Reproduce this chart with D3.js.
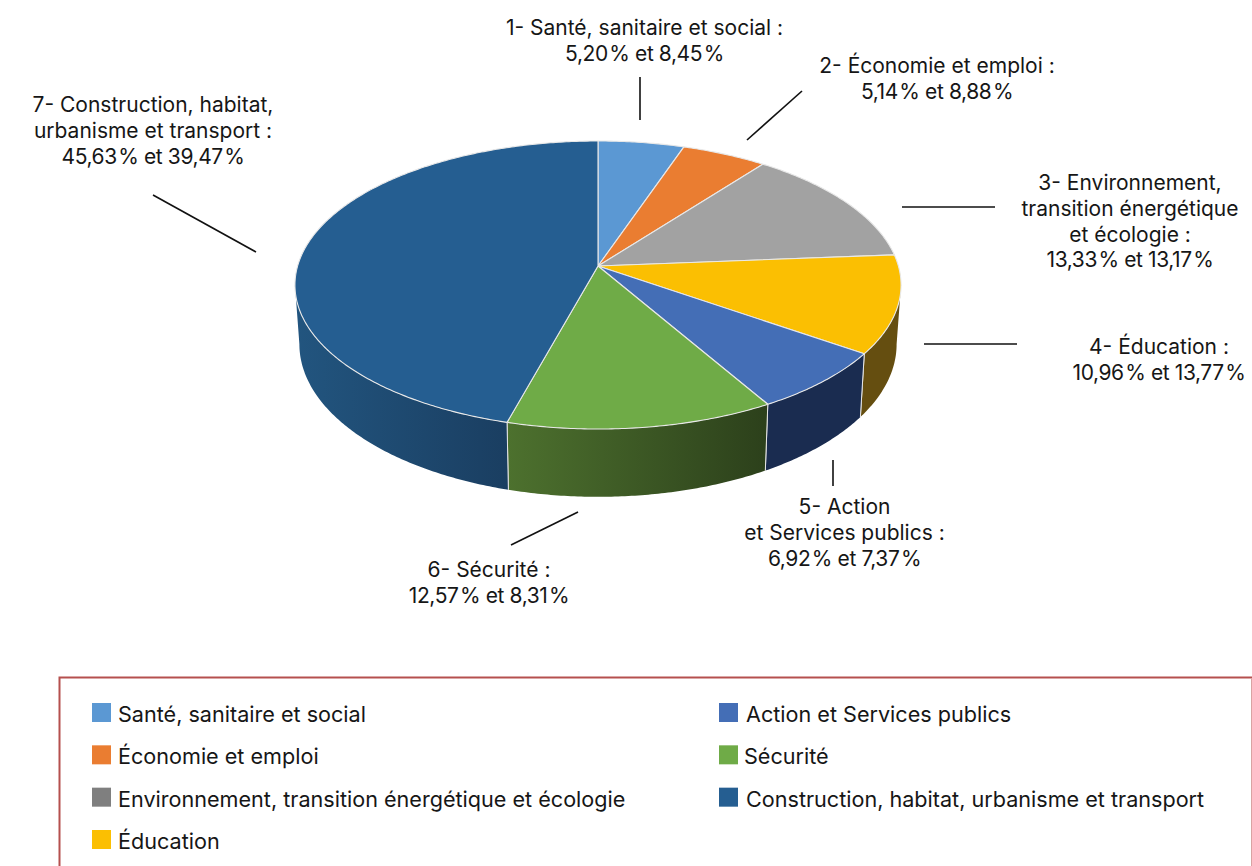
<!DOCTYPE html>
<html>
<head>
<meta charset="utf-8">
<script src="https://cdnjs.cloudflare.com/ajax/libs/d3/7.8.5/d3.min.js"></script>
<style>
html,body{margin:0;padding:0;background:#fff;}
svg{display:block;}
text{font-family:Inter,"Open Sans",sans-serif;fill:#161616;}
</style>
</head>
<body>
<script>
// data
const categories=["Santé, sanitaire et social","Économie et emploi","Environnement, transition énergétique et écologie","Éducation","Action et Services publics","Sécurité","Construction, habitat, urbanisme et transport"];
const shareFirst=[5.20,5.14,13.33,10.96,6.92,12.57,45.63];
const shareSecond=[8.45,8.88,13.17,13.77,7.37,8.31,39.47];
const labelNames=[
    ["1- Santé, sanitaire et social :"],
    ["2- Économie et emploi :"],
    ["3- Environnement,","transition énergétique","et écologie :"],
    ["4- Éducation :"],
    ["5- Action","et Services publics :"],
    ["6- Sécurité :"],
    ["7- Construction, habitat,","urbanisme et transport :"]
];
const topColors=["#5b98d3","#ea7d31","#a2a2a2","#fbbf02","#446eb6","#6fab47","#255e91"];
const legendColors=["#5b98d3","#ea7d31","#7f7f7f","#fbbf02","#446eb6","#6fab47","#255e91"];

const width=1252,height=866;
const svg=d3.select("body").append("svg").attr("width",width).attr("height",height);
const defs=svg.append("defs");

// perspective of the pie: the apex sits above the centre of the ellipse
const persp=-0.132;
const topFace={x:598,y:266,a:300.4,b:141.5};
const bottomFace={x:598,y:324,a:296,b:150};
function project(face,angle){
    const u=Math.sin(angle),v=-Math.cos(angle);
    const w=1+persp*v;
    return [face.x+face.a*u/w,face.y+face.b*v/w];
}
function arcPoints(face,a0,a1){
    const n=Math.max(2,Math.ceil(Math.abs(a1-a0)/0.01));
    return d3.range(n+1).map(i=>project(face,a0+(a1-a0)*i/n));
}
const line=d3.line();

const pie=d3.pie().sort(null);
const slices=pie(shareFirst);

// silhouette of the side wall
const rightEdge=Math.PI-Math.acos(-persp);
const leftEdge=2*Math.PI-rightEdge;

// left and right colour of each visible wall
const wallStops=[
    null,null,null,
    ["#654e10","#654e10"],
    ["#1a2c50","#1a2c50"],
    ["#4d712e","#2c401b"],
    ["#22557f","#1a3e61"]
];
const pieG=svg.append("g");

slices.forEach((d,i)=>{
    if(!wallStops[i])return;
    const a0=Math.max(d.startAngle,rightEdge),a1=Math.min(d.endAngle,leftEdge);
    const topPts=arcPoints(topFace,a0,a1);
    const botPts=arcPoints(bottomFace,a1,a0);
    const ext=d3.extent(topPts.concat(botPts),p=>p[0]);
    const grad=defs.append("linearGradient").attr("id","wall"+i)
        .attr("gradientUnits","userSpaceOnUse")
        .attr("x1",ext[0]).attr("x2",ext[1]).attr("y1",0).attr("y2",0);
    grad.append("stop").attr("offset",0).attr("stop-color",wallStops[i][0]);
    grad.append("stop").attr("offset",1).attr("stop-color",wallStops[i][1]);
    pieG.append("path")
        .attr("d",line(topPts.concat(botPts))+"Z")
        .attr("fill","url(#wall"+i+")");
    // white seams at the visible slice borders
    [d.startAngle,d.endAngle].forEach(a=>{
        if(a>rightEdge&&a<leftEdge){
            pieG.append("path")
                .attr("d",line([project(topFace,a),project(bottomFace,a)]))
                .attr("stroke","#e6e6e6").attr("stroke-width",1).attr("fill","none");
        }
    });
});

slices.forEach((d,i)=>{
    const pts=[[topFace.x,topFace.y]].concat(arcPoints(topFace,d.startAngle,d.endAngle));
    pieG.append("path")
        .attr("d",line(pts)+"Z")
        .attr("fill",topColors[i])
        .attr("stroke","#e8e8e8")
        .attr("stroke-width",1.1)
        .attr("stroke-linejoin","round");
});

// leader lines next to the labels
const leaders=[
    [[640,77],[640,120]],
    [[802,91],[747,140]],
    [[902,207],[995,207]],
    [[924,344],[1017,344]],
    [[833,460],[833,486]],
    [[511,545],[578,512]],
    [[153,195],[256,252]]
];
svg.append("g").selectAll("path").data(leaders).enter().append("path")
    .attr("d",d=>line(d))
    .attr("stroke","#111").attr("stroke-width",1.6).attr("fill","none");

const fmt=d3.formatLocale({decimal:",",thousands:" ",grouping:[3],currency:["","€"]}).format(".2f");
const labelPos=[
    {x:644.5,y:35},
    {x:937,y:73},
    {x:1130,y:190},
    {x:1159,y:354},
    {x:844.5,y:514},
    {x:489,y:577},
    {x:153,y:112}
];
const labels=svg.append("g").attr("font-size",21).attr("text-anchor","middle");
labelNames.forEach((names,i)=>{
    const lines=names.concat([fmt(shareFirst[i])+"\u200a% et "+fmt(shareSecond[i])+"\u200a%"]);
    labels.append("g").selectAll("text").data(lines).enter().append("text")
        .attr("x",labelPos[i].x)
        .attr("y",(d,k)=>labelPos[i].y+k*25.8)
        .attr("letter-spacing",(d,k)=>k===lines.length-1?-0.4:0)
        .text(d=>d);
});

// legend box, the right side is paler than the others
svg.append("path")
    .attr("d",line([[59.5,866],[59.5,677.5],[1252,677.5]]))
    .attr("fill","none").attr("stroke","#b5504e").attr("stroke-width",2);
svg.append("path")
    .attr("d",line([[1251.5,678],[1251.5,866]]))
    .attr("fill","none").attr("stroke","#d9a3a2").attr("stroke-width",1);

const legendCol=d3.scalePoint().domain([0,1]).range([92,719]);
const legendRow=d3.scalePoint().domain([0,1,2,3]).range([703,830]);
const legendTextX=[118,118,118,118,746,744,746];
const legendRows=[0,1,2,3,0,1,2];
const legendG=svg.append("g").selectAll("g").data(categories).enter().append("g")
    .attr("transform",(d,i)=>`translate(0,${legendRow(legendRows[i])})`);
legendG.append("rect")
    .attr("x",(d,i)=>legendCol(i<4?0:1))
    .attr("width",19).attr("height",19)
    .attr("fill",(d,i)=>legendColors[i]);
legendG.append("text")
    .attr("x",(d,i)=>legendTextX[i])
    .attr("y",19)
    .attr("font-size",21.6)
    .text(d=>d);
</script>
</body>
</html>
